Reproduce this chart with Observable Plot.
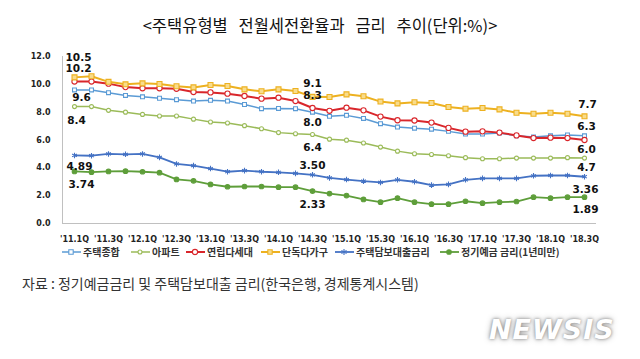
<!DOCTYPE html>
<html><head><meta charset="utf-8">
<script src="https://cdn.jsdelivr.net/npm/d3@7"></script>
<script src="https://cdn.jsdelivr.net/npm/@observablehq/plot@0.6"></script>
<style>
body{margin:0;background:#fff;width:640px;height:359px;overflow:hidden;position:relative;font-family:"Noto Sans CJK KR",sans-serif;}
#title{position:absolute;top:13px;left:0;width:640px;text-align:center;font-size:16.5px;color:#111;word-spacing:7px;}
#chart{position:absolute;top:40px;left:0;}
#legend{position:absolute;top:244px;left:0;width:640px;height:16px;font-size:10px;font-weight:bold;color:#333;white-space:nowrap;}
#legend .item{position:absolute;top:0;display:flex;align-items:center;gap:2px;}
#caption{position:absolute;top:273px;left:22px;font-size:14px;color:#333;}
#wm{position:absolute;top:314px;left:489px;font-family:"DejaVu Sans",sans-serif;font-size:27px;font-weight:bold;font-style:italic;color:#fff;letter-spacing:1px;text-shadow:0 0 3px #888,0 0 6px #aaa;}
</style></head>
<body>
<div id="title">&lt;주택유형별 전월세전환율과 금리 추이(단위:%)&gt;</div>
<div id="chart"></div>
<div id="legend"></div>
<div id="caption">자료 : 정기예금금리 및 주택담보대출 금리(한국은행, 경제통계시스템)</div>
<div id="wm">NEWSIS</div>
<script>
const quarters = ["'11.1Q","'11.2Q","'11.3Q","'11.4Q","'12.1Q","'12.2Q","'12.3Q","'12.4Q","'13.1Q","'13.2Q","'13.3Q","'13.4Q","'14.1Q","'14.2Q","'14.3Q","'14.4Q","'15.1Q","'15.2Q","'15.3Q","'15.4Q","'16.1Q","'16.2Q","'16.3Q","'16.4Q","'17.1Q","'17.2Q","'17.3Q","'17.4Q","'18.1Q","'18.2Q","'18.3Q"];
const xTickLabels = ["'11.1Q","'11.3Q","'12.1Q","'12.3Q","'13.1Q","'13.3Q","'14.1Q","'14.3Q","'15.1Q","'15.3Q","'16.1Q","'16.3Q","'17.1Q","'17.3Q","'18.1Q","'18.3Q"];
const yTicks = [0, 2, 4, 6, 8, 10, 12];
const seriesNames = ["주택종합","아파트","연립다세대","단독다가구","주택담보대출금리","정기예금 금리(1년미만)"];

const housingTotal = [9.6,9.6,9.4,9.2,9.1,9.0,8.9,8.8,8.85,8.8,8.55,8.25,8.27,8.25,8.0,7.7,7.77,7.55,7.17,6.93,6.85,6.78,6.62,6.43,6.43,6.5,6.3,6.22,6.3,6.36,6.3];
const apartment = [8.4,8.4,8.13,8.0,7.84,7.72,7.72,7.5,7.29,7.22,7.03,6.81,6.53,6.45,6.4,6.06,5.99,5.78,5.49,5.2,5.01,4.96,4.87,4.73,4.65,4.65,4.7,4.7,4.7,4.73,4.7];
const rowHouse = [10.2,10.2,10.05,9.8,9.72,9.72,9.68,9.45,9.42,9.33,9.16,8.97,9.04,8.8,8.3,8.1,8.32,8.13,7.68,7.42,7.4,7.25,6.87,6.6,6.62,6.53,6.33,6.14,6.17,6.14,6.0];
const detached = [10.5,10.58,10.18,10.0,10.07,10.02,9.86,9.78,9.95,9.88,9.64,9.5,9.64,9.52,9.1,9.09,9.28,9.14,8.76,8.63,8.71,8.66,8.37,8.25,8.3,8.2,7.96,7.89,7.96,7.89,7.7];
const mortgageRate = [4.89,4.87,5.0,4.97,5.0,4.75,4.28,4.16,3.95,3.72,3.8,3.72,3.68,3.6,3.50,3.28,3.16,3.04,2.95,3.14,3.0,2.76,2.81,3.14,3.24,3.24,3.24,3.43,3.45,3.45,3.36];
const depositRate = [3.74,3.69,3.74,3.76,3.72,3.65,3.17,3.07,2.81,2.64,2.66,2.66,2.61,2.61,2.33,2.15,2.01,1.73,1.53,1.82,1.53,1.39,1.39,1.6,1.46,1.53,1.58,1.89,1.82,1.89,1.89];

const seriesValues = [housingTotal, apartment, rowHouse, detached, mortgageRate, depositRate];

// styles (not data)
const styles = [
  {stroke:"#5B9BD5", sw:1.5, symbol:"square", fill:"#fff", r:2.2, fmt:".1f", legLeft:62, labels:[[0,7,8],[14,0,10],[30,2,-9]]},
  {stroke:"#9BBB59", sw:1.5, symbol:"circle", fill:"#fff", r:2.0, fmt:".1f", legLeft:131, labels:[[0,2,14],[14,0,13],[30,2,10]]},
  {stroke:"#D9262B", sw:2, symbol:"circle", fill:"#fff", r:2.6, fmt:".1f", legLeft:186, labels:[[0,4,-12.5],[14,0,-12],[30,2,10]]},
  {stroke:"#EDB120", sw:2, symbol:"square", fill:"#F8DC8C", r:2.8, fmt:".1f", legLeft:261, labels:[[0,4,-19.5],[14,0,-13],[30,3,-12]]},
  {stroke:"#4472C4", sw:1.8, symbol:"asterisk", fill:"none", r:2.6, fmt:".2f", legLeft:335, labels:[[0,5,11],[14,0,-9],[30,1,13]]},
  {stroke:"#5E9E3A", sw:1.8, symbol:"circle", fill:"#5E9E3A", r:2.3, fmt:".2f", legLeft:440, labels:[[0,7,13],[14,0,14],[30,1,12]]}
];

const rows = [];
seriesNames.forEach((s, si) => seriesValues[si].forEach((v, i) => rows.push({series: s, q: quarters[i], i, v})));

const marks = [
  Plot.frame({anchor: "left", stroke: "#c0c0c0"}),
  Plot.ruleY([0], {stroke: "#c0c0c0"})
];
seriesNames.forEach((s, si) => {
  const st = styles[si];
  const d = rows.filter(r => r.series === s);
  marks.push(Plot.line(d, {x: "q", y: "v", stroke: st.stroke, strokeWidth: st.sw}));
  marks.push(Plot.dot(d, {x: "q", y: "v", symbol: () => st.symbol, r: st.r, stroke: st.stroke, fill: st.fill, strokeWidth: 1.1}));
});
seriesNames.forEach((s, si) => {
  const st = styles[si];
  const f = d3.format(st.fmt);
  st.labels.forEach(([idx, dx, dy]) => {
    const d = rows.filter(r => r.series === s && r.i === idx);
    marks.push(Plot.text(d, {x: "q", y: "v", text: r => f(r.v), dx, dy, fontSize: 10.5, fontWeight: "bold", fill: "#111", fontFamily: "DejaVu Sans"}));
  });
});

const chart = Plot.plot({
  width: 640, height: 205,
  marginTop: 16, marginBottom: 22, marginLeft: 62, marginRight: 44,
  style: {fontFamily: "DejaVu Sans", fontSize: "8px", fontWeight: "bold", color: "#222", background: "transparent", overflow: "visible"},
  x: {type: "point", domain: quarters, padding: 0.463, ticks: xTickLabels, tickSize: 0, tickPadding: 13, label: null},
  y: {domain: [0, 12], ticks: yTicks, tickFormat: d3.format(".1f"), tickSize: 0, tickPadding: 12, label: null},
  marks
});
document.getElementById("chart").appendChild(chart);

// legend
const leg = document.getElementById("legend");
const symPath = {square: "M-2.2,-2.2h4.4v4.4h-4.4z", asterisk: "M0,-3V3M-2.6,-1.5L2.6,1.5M-2.6,1.5L2.6,-1.5"};
seriesNames.forEach((s, si) => {
  const st = styles[si];
  const it = document.createElement("div");
  it.className = "item";
  it.style.left = st.legLeft + "px";
  let m;
  if (st.symbol === "circle") m = `<circle cx="9" cy="5" r="${st.r}" fill="${st.fill}" stroke="${st.stroke}" stroke-width="1.1"/>`;
  else m = `<path transform="translate(9,5)" d="${symPath[st.symbol]}" fill="${st.fill}" stroke="${st.stroke}" stroke-width="1.1"/>`;
  it.innerHTML = `<svg width="19" height="10"><line x1="0" y1="5" x2="19" y2="5" stroke="${st.stroke}" stroke-width="${st.sw}"/>${m}</svg><span>${s}</span>`;
  leg.appendChild(it);
});
</script>
</body></html>
